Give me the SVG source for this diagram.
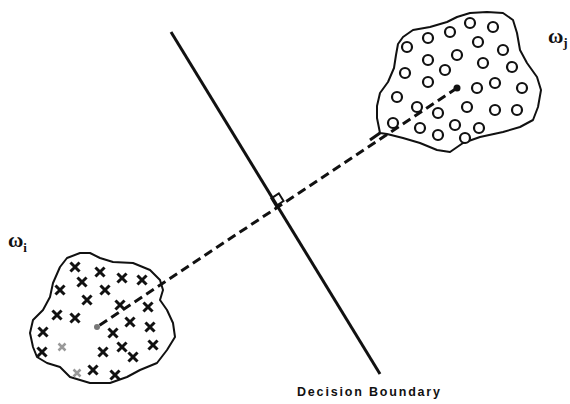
<svg xmlns="http://www.w3.org/2000/svg" width="570" height="404" viewBox="0 0 570 404">
<style>
.blob{fill:none;stroke:#111;stroke-width:2;stroke-linejoin:round}
.o{fill:#fff;stroke:#111;stroke-width:2.2}
.x{stroke:#111;stroke-width:3;stroke-linecap:square}
.xf{stroke:#999;stroke-width:2.5}
.lbl{font-family:"Liberation Serif",serif;fill:#111}
.dash{stroke:#111;stroke-width:3;stroke-dasharray:9 5;fill:none}
</style>
<defs>
<g id="cx"><path d="M-3.5,-3.5L3.5,3.5M3.5,-3.5L-3.5,3.5"/></g>
</defs>
<rect width="570" height="404" fill="#fff"/>
<g id="connectors">
<line class="dash" x1="457" y1="88" x2="97" y2="327"/>
<path d="M276,206 L283.5,201 L278.8,193.3 L271.3,198.3 Z" fill="none" stroke="#111" stroke-width="2"/>
</g>
<g id="boundary">
<line x1="171" y1="32" x2="380" y2="374" stroke="#111" stroke-width="3"/>
<text x="297" y="396" font-weight="bold" font-size="12.5" textLength="143" lengthAdjust="spacing" fill="#111" style="font-family:'Liberation Sans',sans-serif">Decision Boundary</text>
</g>
<g id="class-j">
<path class="blob" d="M380,133 L377,118 L377,106 L380,93 L388,82 L394,68 L396,55 L398,44 L403,37 L413,30 L430,27 L447,22 L457,17 L470,13 L487,12 L503,13 L513,20 L517,33 L520,50 L527,63 L537,77 L541,90 L538,107 L533,120 L520,127 L503,132 L480,137 L463,143 L450,152 L437,150 L420,143 L403,138 L387,134 Z"/>
<line x1="380" y1="133" x2="370" y2="140" stroke="#111" stroke-width="3"/>
<g>
<circle class="o" cx="407" cy="47" r="5"/>
<circle class="o" cx="428" cy="38" r="5"/>
<circle class="o" cx="450" cy="32" r="5"/>
<circle class="o" cx="470" cy="23" r="5"/>
<circle class="o" cx="493" cy="27" r="5"/>
<circle class="o" cx="478" cy="42" r="5"/>
<circle class="o" cx="503" cy="50" r="5"/>
<circle class="o" cx="457" cy="55" r="5"/>
<circle class="o" cx="428" cy="60" r="5"/>
<circle class="o" cx="405" cy="73" r="5"/>
<circle class="o" cx="445" cy="70" r="5"/>
<circle class="o" cx="483" cy="63" r="5"/>
<circle class="o" cx="512" cy="67" r="5"/>
<circle class="o" cx="428" cy="82" r="5"/>
<circle class="o" cx="495" cy="83" r="5"/>
<circle class="o" cx="477" cy="88" r="5"/>
<circle class="o" cx="522" cy="88" r="5"/>
<circle class="o" cx="397" cy="97" r="5"/>
<circle class="o" cx="417" cy="107" r="5"/>
<circle class="o" cx="438" cy="113" r="5"/>
<circle class="o" cx="467" cy="107" r="5"/>
<circle class="o" cx="495" cy="110" r="5"/>
<circle class="o" cx="517" cy="110" r="5"/>
<circle class="o" cx="393" cy="123" r="5"/>
<circle class="o" cx="420" cy="128" r="5"/>
<circle class="o" cx="438" cy="135" r="5"/>
<circle class="o" cx="455" cy="125" r="5"/>
<circle class="o" cx="465" cy="138" r="5"/>
<circle class="o" cx="479" cy="128" r="5"/>
</g>
<circle cx="457" cy="88" r="3.5" fill="#111"/>
<text class="lbl" x="548" y="43" font-size="21" font-weight="bold">ω<tspan font-size="13" dy="4">j</tspan></text>
</g>
<g id="class-i">
<path class="blob" d="M67,258 L80,253 L90,253 L100,258 L113,262 L133,263 L150,270 L160,280 L163,290 L160,300 L167,310 L173,323 L175,337 L167,350 L157,363 L140,370 L127,377 L110,383 L90,383 L70,377 L60,367 L47,363 L37,357 L33,347 L30,333 L33,320 L43,310 L50,297 L53,283 L60,267 Z"/>
<g class="x">
<use href="#cx" x="75" y="267"/>
<use href="#cx" x="100" y="272"/>
<use href="#cx" x="122" y="278"/>
<use href="#cx" x="142" y="280"/>
<use href="#cx" x="82" y="282"/>
<use href="#cx" x="60" y="290"/>
<use href="#cx" x="105" y="290"/>
<use href="#cx" x="87" y="300"/>
<use href="#cx" x="120" y="305"/>
<use href="#cx" x="148" y="307"/>
<use href="#cx" x="57" y="315"/>
<use href="#cx" x="75" y="318"/>
<use href="#cx" x="130" y="322"/>
<use href="#cx" x="150" y="327"/>
<use href="#cx" x="43" y="332"/>
<use href="#cx" x="113" y="333"/>
<use href="#cx" x="153" y="345"/>
<use href="#cx" x="42" y="352"/>
<use href="#cx" x="103" y="352"/>
<use href="#cx" x="122" y="347"/>
<use href="#cx" x="133" y="357"/>
<use href="#cx" x="93" y="370"/>
<use href="#cx" x="115" y="375"/>
</g>
<g class="xf">
<use href="#cx" x="62" y="347"/>
<use href="#cx" x="77" y="373"/>
</g>
<circle cx="97" cy="327" r="3" fill="#777"/>
<text class="lbl" x="8" y="247" font-size="21" font-weight="bold">ω<tspan font-size="13" dy="5">i</tspan></text>
</g>
</svg>
